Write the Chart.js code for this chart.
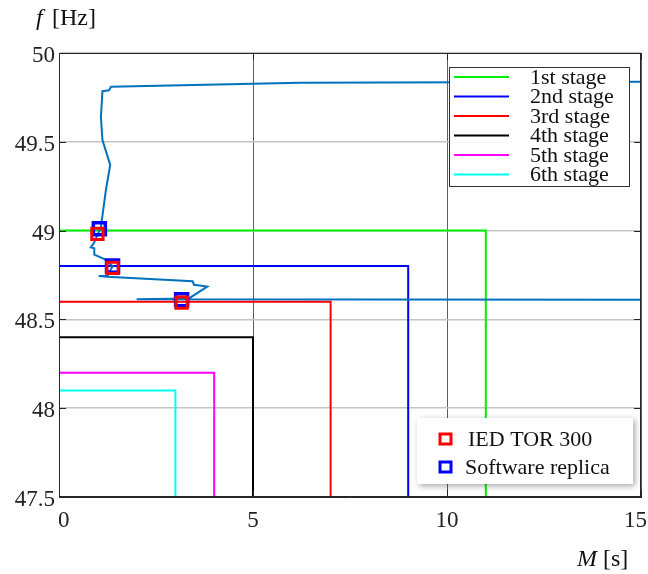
<!DOCTYPE html>
<html>
<head>
<meta charset="utf-8">
<script src="https://cdn.jsdelivr.net/npm/chart.js@4/dist/chart.umd.min.js"></script>
<style>
  html, body { margin: 0; padding: 0; background: #ffffff; }
  #wrap { width: 648px; height: 574px; position: relative; }
</style>
</head>
<body>
<div id="wrap"><canvas id="c" width="648" height="574"></canvas></div>
<script>
// ---- data ----
const xTickValues = [0, 5, 10, 15];
const yTickValues = [47.5, 48, 48.5, 49, 49.5, 50];

const stageNames = ['1st stage', '2nd stage', '3rd stage', '4th stage', '5th stage', '6th stage'];
const stageFreq  = [49.0, 48.8, 48.6, 48.4, 48.2, 48.1];   // Hz
const stageTime  = [11.0, 9.0, 7.0, 5.0, 4.0, 3.0];        // s
const stageColors = ['#00ee00', '#0000ff', '#ff0000', '#000000', '#ff00ff', '#00ffff'];

// measured trajectory (M [s], f [Hz]) in drawing order
const curveM = [15.0, 6.23, 1.34, 1.29, 1.12, 1.08, 1.12, 1.32, 1.21, 1.08, 1.00, 0.90, 0.82, 0.91, 0.91, 1.17, 1.38, 1.25, 1.02, 1.24, 3.44, 3.48, 3.82, 3.35, 2.0, 15.0];
const curveF = [49.838, 49.833, 49.81, 49.79, 49.785, 49.64, 49.51, 49.37, 49.23, 49.02, 48.98, 48.93, 48.905, 48.90, 48.865, 48.84, 48.80, 48.745, 48.745, 48.74, 48.715, 48.695, 48.685, 48.618, 48.613, 48.61];

const iedLabel = 'IED TOR 300';
const iedM = [0.99, 1.38, 3.16];
const iedF = [48.982, 48.79, 48.594];

const swLabel = 'Software replica';
const swM = [1.04, 1.38, 3.16];
const swF = [49.01, 48.80, 48.61];

// ---- build datasets ----
const zip = (xs, ys) => xs.map((x, i) => ({ x: x, y: ys[i] }));
const SERIF = '"Liberation Serif", "Times New Roman", serif';

const datasets = [];
datasets.push({
  label: iedLabel, data: zip(iedM, iedF), showLine: false,
  pointStyle: 'rect', pointRadius: 8, pointBorderWidth: 3,
  pointBorderColor: '#ff0000', pointBackgroundColor: 'rgba(0,0,0,0)', order: 0
});
datasets.push({
  label: swLabel, data: zip(swM, swF), showLine: false,
  pointStyle: 'rect', pointRadius: 8.5, pointBorderWidth: 3.5,
  pointBorderColor: '#0000ff', pointBackgroundColor: 'rgba(0,0,0,0)', order: 1
});
datasets.push({
  label: 'f(M)', data: zip(curveM, curveF), showLine: true,
  borderColor: '#0072bd', borderWidth: 2, pointRadius: 0, tension: 0, order: 2
});
stageNames.forEach((name, i) => {
  datasets.push({
    label: name,
    data: [{ x: 0, y: stageFreq[i] }, { x: stageTime[i], y: stageFreq[i] }, { x: stageTime[i], y: 47.5 }],
    showLine: true, borderColor: stageColors[i], borderWidth: 2, pointRadius: 0, tension: 0, order: 3
  });
});

// ---- overlay: frame, inner ticks, x labels, legends, axis titles ----
const overlay = {
  id: 'overlay',
  afterDraw(chart) {
    const ctx = chart.ctx;
    const a = chart.chartArea;
    const W = chart.width;
    const xs = chart.scales.x, ys = chart.scales.y;
    ctx.save();
    // frame
    ctx.strokeStyle = '#262626';
    ctx.lineWidth = 1;
    ctx.strokeRect(a.left + 0.5, a.top + 0.5, a.right - a.left - 1, a.bottom - a.top - 1);
    // inner tick marks
    ctx.beginPath();
    yTickValues.forEach(v => {
      const py = Math.round(ys.getPixelForValue(v)) + 0.5;
      ctx.moveTo(a.left, py); ctx.lineTo(a.left + 7, py);
      ctx.moveTo(a.right, py); ctx.lineTo(a.right - 7, py);
    });
    xTickValues.forEach(v => {
      const px = Math.round(xs.getPixelForValue(v)) + 0.5;
      ctx.moveTo(px, a.bottom); ctx.lineTo(px, a.bottom - 7);
      ctx.moveTo(px, a.top); ctx.lineTo(px, a.top + 7);
    });
    ctx.stroke();

    // x tick labels (kept inside the canvas)
    ctx.font = '23px ' + SERIF;
    ctx.fillStyle = '#222222';
    ctx.textAlign = 'center';
    ctx.textBaseline = 'middle';
    xTickValues.forEach(v => {
      const t = String(v);
      const hw = ctx.measureText(t).width / 2;
      let px = xs.getPixelForValue(v);
      px = Math.max(px, a.left + hw - 1);
      px = Math.min(px, W - hw - 1);
      ctx.fillText(t, px, a.bottom + 24);
    });

    // legend 1 (stages)
    ctx.fillStyle = '#ffffff';
    ctx.fillRect(449.5, 67.5, 180, 119);
    ctx.strokeStyle = '#333333';
    ctx.lineWidth = 1;
    ctx.strokeRect(449.5, 67.5, 180, 119);
    ctx.font = '22px ' + SERIF;
    ctx.textBaseline = 'middle';
    ctx.textAlign = 'left';
    stageNames.forEach((name, i) => {
      const y = 77 + i * 19.5;
      ctx.strokeStyle = stageColors[i];
      ctx.lineWidth = 2;
      ctx.beginPath(); ctx.moveTo(454, y); ctx.lineTo(509, y); ctx.stroke();
      ctx.fillStyle = '#111111';
      ctx.fillText(name, 530, y + 1);
    });

    // legend 2 (markers) with shadow
    ctx.save();
    ctx.shadowColor = 'rgba(0,0,0,0.35)';
    ctx.shadowBlur = 6;
    ctx.shadowOffsetX = 2;
    ctx.shadowOffsetY = 2;
    ctx.fillStyle = '#ffffff';
    ctx.fillRect(417, 418, 216, 66);
    ctx.restore();
    const mk = [[iedLabel, '#ff0000', 439, 468], [swLabel, '#0000ff', 467, 465]];
    mk.forEach(m => {
      ctx.strokeStyle = m[1];
      ctx.lineWidth = 3;
      ctx.strokeRect(440, m[2] - 5, 11, 10);
      ctx.fillStyle = '#111111';
      ctx.font = '22px ' + SERIF;
      ctx.fillText(m[0], m[3], m[2] + 1);
    });

    // axis titles
    ctx.fillStyle = '#111111';
    ctx.textBaseline = 'alphabetic';
    ctx.font = 'italic 24px ' + SERIF;
    ctx.fillText('f', 36, 25);
    ctx.font = '24px ' + SERIF;
    ctx.fillText('[Hz]', 52, 25);
    ctx.font = 'italic 24px ' + SERIF;
    ctx.fillText('M', 577, 566);
    ctx.font = '24px ' + SERIF;
    ctx.fillText('[s]', 603, 566);
    ctx.restore();
  }
};

new Chart(document.getElementById('c'), {
  type: 'scatter',
  data: { datasets: datasets },
  options: {
    responsive: false,
    animation: false,
    devicePixelRatio: 1,
    layout: { autoPadding: false, padding: { top: 53, right: 7, left: 0, bottom: 0 } },
    plugins: { legend: { display: false }, tooltip: { enabled: false }, title: { display: false } },
    scales: {
      x: {
        type: 'linear', min: 0, max: 15,
        afterBuildTicks: s => { s.ticks = xTickValues.map(v => ({ value: v })); },
        afterFit: s => { s.height = 77; s.paddingLeft = 0; s.paddingRight = 0; },
        ticks: { display: false },
        grid: { color: '#5e5e5e', lineWidth: 1, drawTicks: false },
        border: { color: '#262626', width: 1 }
      },
      y: {
        type: 'linear', min: 47.5, max: 50,
        afterBuildTicks: s => { s.ticks = yTickValues.map(v => ({ value: v })); },
        afterFit: s => { s.width = 59; s.paddingTop = 0; s.paddingBottom = 0; },
        ticks: { font: { family: SERIF, size: 23 }, color: '#222222', padding: 4, labelOffset: 3,
                 callback: v => String(v) },
        grid: { color: '#c4c4c4', lineWidth: 1.5, drawTicks: false },
        border: { color: '#262626', width: 1 }
      }
    }
  },
  plugins: [overlay]
});
</script>
</body>
</html>
